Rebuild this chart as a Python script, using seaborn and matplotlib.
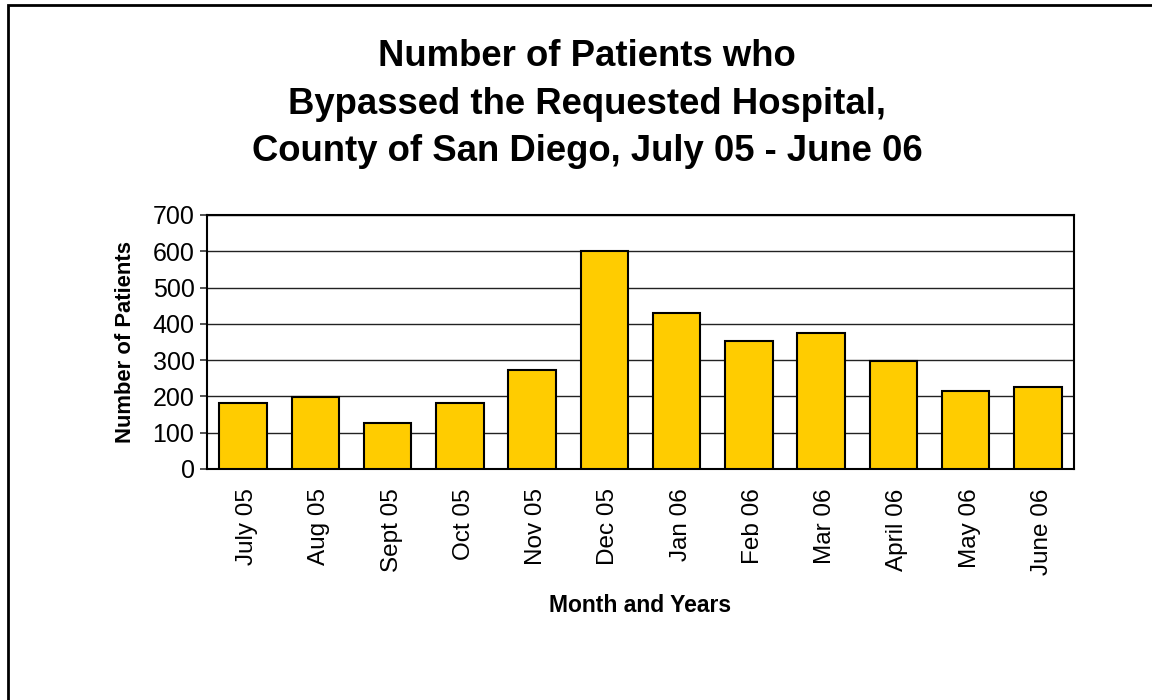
import matplotlib
matplotlib.use("Agg")
import matplotlib.pyplot as plt
import matplotlib.transforms as mtransforms
import seaborn as sns
import pandas as pd
import numpy as np
from matplotlib.patches import Rectangle

months = ["July 05", "Aug 05", "Sept 05", "Oct 05", "Nov 05", "Dec 05",
          "Jan 06", "Feb 06", "Mar 06", "April 06", "May 06", "June 06"]
patients = [182, 198, 127, 182, 274, 600, 429, 352, 374, 297, 214, 225]
y_ticks = [0, 100, 200, 300, 400, 500, 600, 700]

title = "Number of Patients who\nBypassed the Requested Hospital,\nCounty of San Diego, July 05 - June 06"

sns.set_theme(style="white")
plt.rcParams['font.family'] = ['Liberation Sans', 'DejaVu Sans']
plt.rcParams['text.color'] = 'black'
plt.rcParams['axes.labelcolor'] = 'black'
plt.rcParams['xtick.color'] = 'black'
plt.rcParams['ytick.color'] = 'black'

df = pd.DataFrame({"month": months, "patients": patients})

fig = plt.figure(figsize=(11.52, 7.0), dpi=100)
ax = fig.add_axes([207/1152, 1-469/700, (1074-207)/1152, (469-215)/700])

sns.barplot(data=df, x="month", y="patients", color="#FFCC00", saturation=1,
            edgecolor="black", linewidth=1.5, width=0.66, ax=ax, zorder=3)

ax.set_ylim(0, 700)
ax.set_xlim(-0.5, len(months) - 0.5)
ax.set_yticks(y_ticks)
ax.set_yticklabels([str(v) for v in y_ticks], fontsize=18)
ax.yaxis.grid(True, color="#222222", linewidth=1.0, zorder=0)
ax.set_axisbelow(True)

# ticks at category boundaries, labels at centers
ax.set_xticks(np.arange(len(months)))
ax.set_xticklabels(months, rotation=90, fontsize=17.5)
ax.tick_params(axis="x", which="major", length=0, pad=14)
ax.set_xticks(np.arange(len(months) + 1) - 0.5, minor=True)
ax.tick_params(axis="x", which="minor", length=7, width=1.2, color="#555555", direction="out")
ax.tick_params(axis="y", length=5, width=1.2, color="#333333", direction="out", pad=4, left=True)

shift = mtransforms.ScaledTranslation(4/100, 0, fig.dpi_scale_trans)
for lbl in ax.get_xticklabels():
    lbl.set_transform(lbl.get_transform() + shift)

for s in ax.spines.values():
    s.set_visible(True)
    s.set_color("black")
    s.set_linewidth(1.5)

ax.set_xlabel("Month and Years", fontsize=16.5, fontweight="bold", labelpad=14)
ax.set_ylabel("Number of Patients", fontsize=15.8, fontweight="bold", labelpad=12)

fig.text(587/1152, 1-104/700, title, ha="center", va="center", fontsize=26.3,
         fontweight="bold", linespacing=1.45, color="black")

# outer chart border
fig.patches.append(Rectangle((8/1152, -0.1), 1.2, (700-5)/700 + 0.1,
                             transform=fig.transFigure, fill=False,
                             edgecolor="black", linewidth=2.0, zorder=10))

fig.savefig("out.png", dpi=100)
